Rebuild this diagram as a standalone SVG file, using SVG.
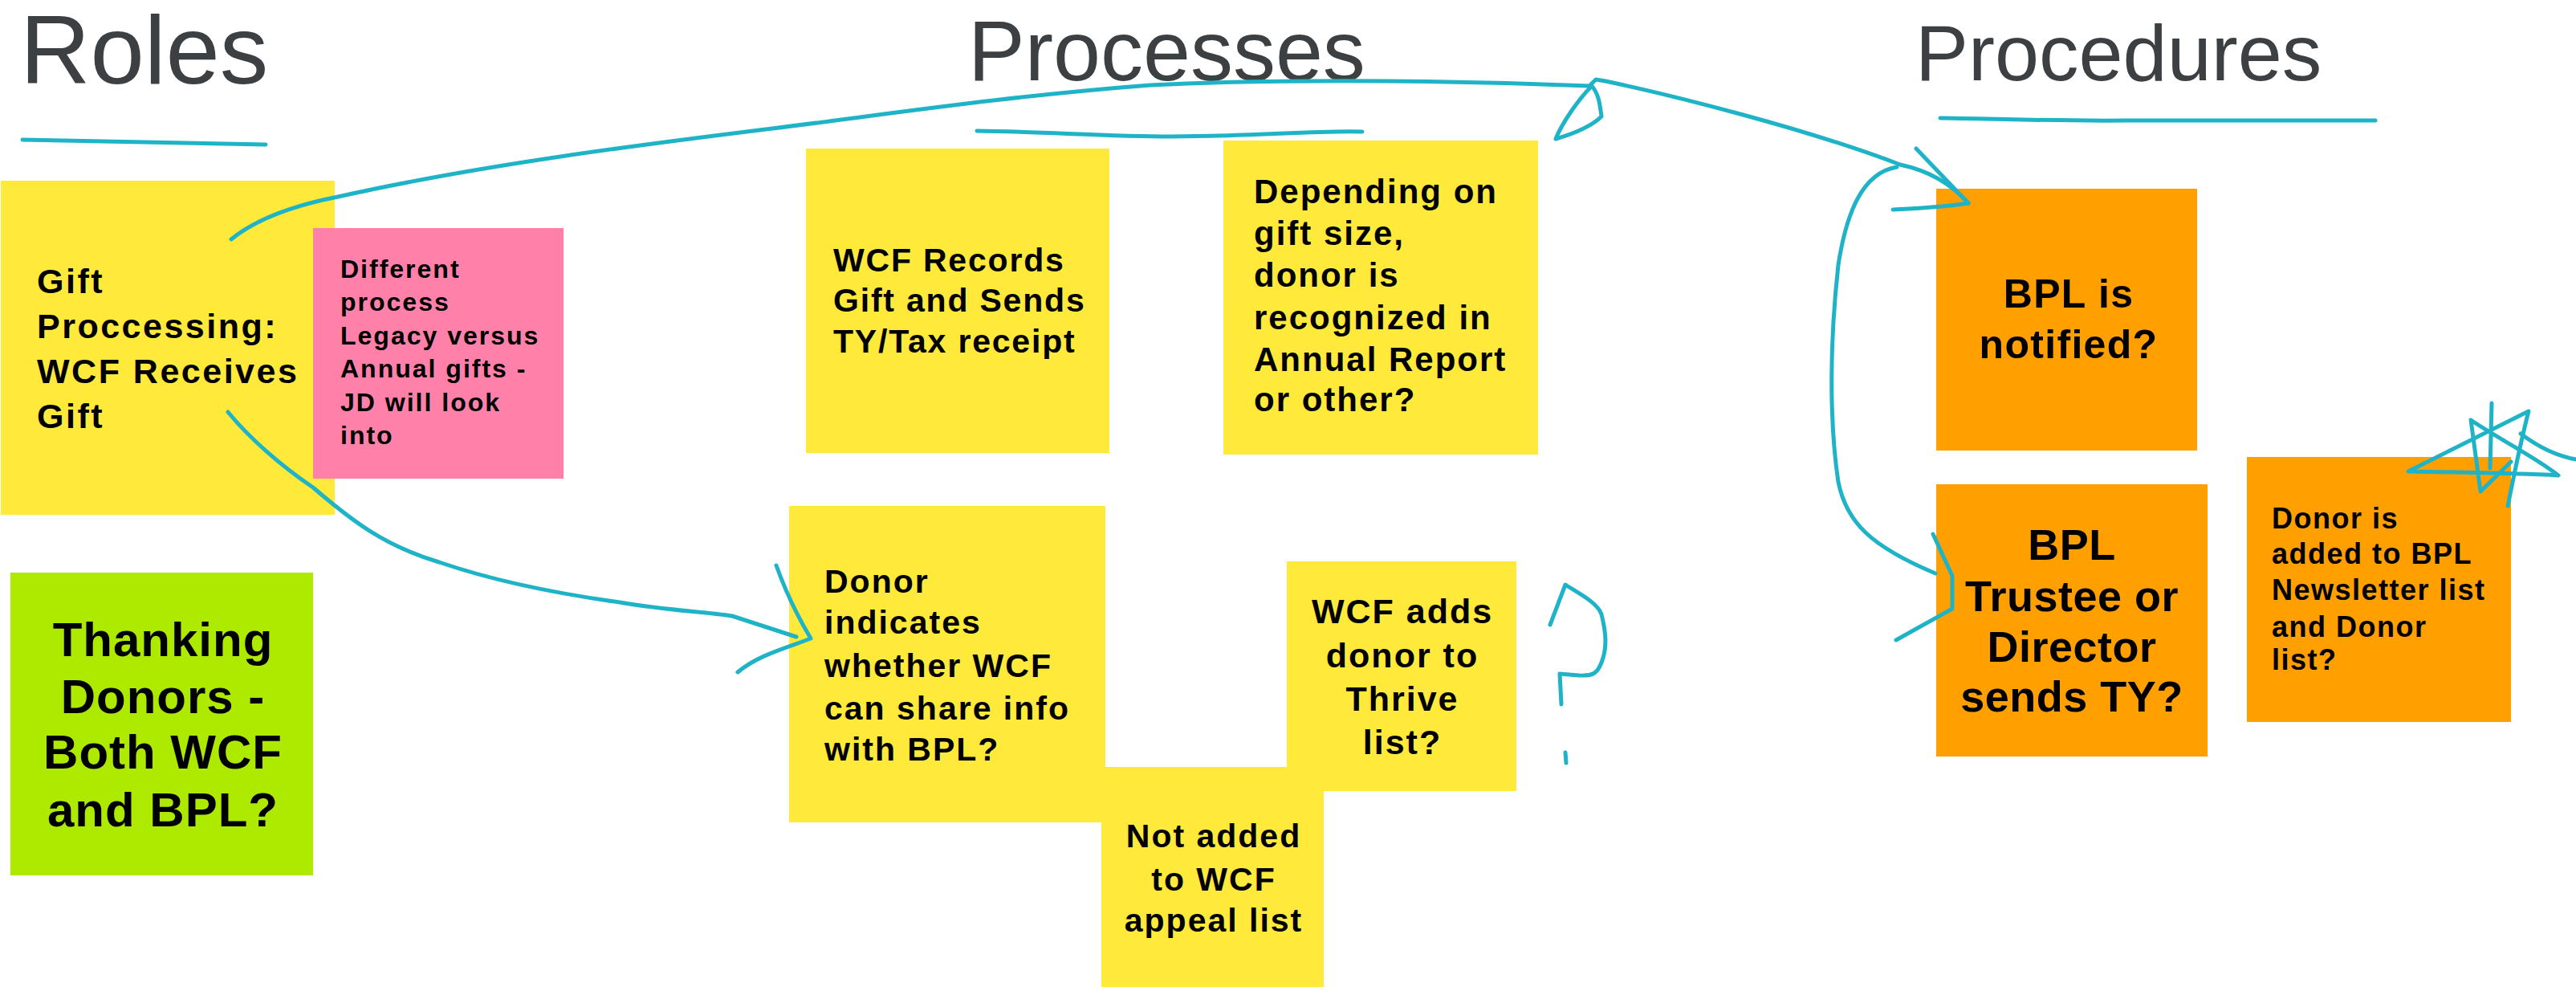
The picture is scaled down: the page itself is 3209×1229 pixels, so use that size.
<svg xmlns="http://www.w3.org/2000/svg" width="3209" height="1229" viewBox="0 0 3209 1229">
<style>
.title{font-family:"Liberation Sans",Arial,sans-serif;fill:#3c4043;}
.t{font-family:"Liberation Sans",Arial,sans-serif;font-weight:bold;fill:#000;}
.yellow{fill:#ffe93b;}
.pink{fill:#ff80a9;}
.green{fill:#aeea00;}
.orange{fill:#ff9f00;}
.ink{fill:none;stroke:#1fb3c7;stroke-width:5;stroke-linecap:round;stroke-linejoin:round;}
</style>
<rect width="3209" height="1229" fill="#ffffff"/>
<g id="titles">
<text class="title" x="25" y="104" font-size="121">Roles</text>
<text class="title" x="1206" y="100" font-size="106">Processes</text>
<text class="title" x="2386" y="100" font-size="99">Procedures</text>
</g>
<g id="underlines">
<path class="ink" d="M28,174 Q180,177 331,180"/>
<path class="ink" d="M1217,163 C1300,164 1380,170 1460,170 C1560,170 1640,162 1697,164"/>
<path class="ink" d="M2417,147 C2500,148 2560,151 2650,150 L2959,150"/>
</g>
<g id="node-gift">
<rect class="yellow" x="1" y="225" width="416" height="416"/>
<text class="t" font-size="43" letter-spacing="2.5"><tspan x="46" y="365">Gift</tspan><tspan x="46" y="421">Proccessing:</tspan><tspan x="46" y="477">WCF Receives</tspan><tspan x="46" y="533">Gift</tspan></text>
</g>
<g id="node-different">
<rect class="pink" x="390" y="284" width="312" height="312"/>
<text class="t" font-size="32" letter-spacing="2"><tspan x="424" y="346">Different</tspan><tspan x="424" y="387">process</tspan><tspan x="424" y="429">Legacy versus</tspan><tspan x="424" y="470">Annual gifts -</tspan><tspan x="424" y="512">JD will look</tspan><tspan x="424" y="553">into</tspan></text>
</g>
<g id="node-thanking">
<rect class="green" x="13" y="713" width="377" height="377"/>
<text class="t" font-size="60" letter-spacing="1" text-anchor="middle"><tspan x="203" y="817">Thanking</tspan><tspan x="203" y="888">Donors -</tspan><tspan x="203" y="957">Both WCF</tspan><tspan x="203" y="1029">and BPL?</tspan></text>
</g>
<g id="node-records">
<rect class="yellow" x="1004" y="185" width="378" height="379"/>
<text class="t" font-size="41" letter-spacing="1.8"><tspan x="1038" y="338">WCF Records</tspan><tspan x="1038" y="388">Gift and Sends</tspan><tspan x="1038" y="439">TY/Tax receipt</tspan></text>
</g>
<g id="node-depending">
<rect class="yellow" x="1524" y="175" width="392" height="391"/>
<text class="t" font-size="42" letter-spacing="2"><tspan x="1562" y="253">Depending on</tspan><tspan x="1562" y="305">gift size,</tspan><tspan x="1562" y="357">donor is</tspan><tspan x="1562" y="410">recognized in</tspan><tspan x="1562" y="462">Annual Report</tspan><tspan x="1562" y="512">or other?</tspan></text>
</g>
<g id="node-donor-indicates">
<rect class="yellow" x="983" y="630" width="394" height="394"/>
<text class="t" font-size="41" letter-spacing="2"><tspan x="1027" y="738">Donor</tspan><tspan x="1027" y="789">indicates</tspan><tspan x="1027" y="843">whether WCF</tspan><tspan x="1027" y="896">can share info</tspan><tspan x="1027" y="947">with BPL?</tspan></text>
</g>
<g id="node-thrive">
<rect class="yellow" x="1603" y="699" width="286" height="286"/>
<text class="t" font-size="43" letter-spacing="2" text-anchor="middle"><tspan x="1747" y="776">WCF adds</tspan><tspan x="1747" y="831">donor to</tspan><tspan x="1747" y="885">Thrive</tspan><tspan x="1747" y="939">list?</tspan></text>
</g>
<g id="node-not-added">
<rect class="yellow" x="1372" y="955" width="277" height="274"/>
<text class="t" font-size="41" letter-spacing="2" text-anchor="middle"><tspan x="1512" y="1055">Not added</tspan><tspan x="1512" y="1109">to WCF</tspan><tspan x="1512" y="1160">appeal list</tspan></text>
</g>
<g id="node-bpl-notified">
<rect class="orange" x="2412" y="235" width="325" height="326"/>
<text class="t" font-size="50" letter-spacing="1.3" text-anchor="middle"><tspan x="2577" y="383">BPL is</tspan><tspan x="2577" y="446">notified?</tspan></text>
</g>
<g id="node-bpl-trustee">
<rect class="orange" x="2412" y="603" width="338" height="339"/>
<text class="t" font-size="54" letter-spacing="0.5" text-anchor="middle"><tspan x="2581" y="697">BPL</tspan><tspan x="2581" y="761">Trustee or</tspan><tspan x="2581" y="824">Director</tspan><tspan x="2581" y="886">sends TY?</tspan></text>
</g>
<g id="node-donor-added">
<rect class="orange" x="2799" y="569" width="329" height="330"/>
<text class="t" font-size="36" letter-spacing="1.5"><tspan x="2830" y="658">Donor is</tspan><tspan x="2830" y="702">added to BPL</tspan><tspan x="2830" y="747">Newsletter list</tspan><tspan x="2830" y="793">and Donor</tspan><tspan x="2830" y="834">list?</tspan></text>
</g>
<g id="connectors">
<path class="ink" d="M288,298 C320,272 370,255 421,245 C600,205 800,180 962,160 C1100,143 1250,120 1433,106 C1600,98 1800,100 1980,107 L1988,99 L2000,101 C2080,118 2250,160 2367,205 C2400,212 2430,228 2452,253"/>
<path class="ink" d="M1983,107 C1965,125 1945,155 1938,173 C1955,168 1980,160 1995,145 C1993,130 1992,118 1983,107 Z"/>
<path class="ink" d="M2387,185 L2452,253 Q2420,258 2358,261"/>
<path class="ink" d="M2363,208 C2320,215 2300,265 2290,330 C2280,420 2278,520 2290,600 C2300,650 2330,680 2411,714"/>
<path class="ink" d="M2408,665 L2432,717 L2432,758 L2362,797"/>
<path class="ink" d="M284,513 C310,545 350,580 390,607 C440,650 480,680 547,700 C620,725 700,740 772,750 C830,760 880,762 912,767 L992,793"/>
<path class="ink" d="M967,704 C980,740 995,770 1010,795 C985,805 945,815 919,837"/>
</g>
<g id="marks">
<path class="ink" d="M1931,778 L1950,728 C1965,738 1990,750 1995,765 C2000,785 2003,805 1995,825 C1990,838 1985,842 1967,841 L1943,839 L1945,877"/>
<path class="ink" stroke-width="7" d="M1950,937 L1951,950"/>
<path class="ink" d="M3000,587 L3150,512 C3140,550 3130,600 3124,630 M3078,523 L3090,612 L3128,575 M3104,502 L3102,583 M3078,523 C3110,545 3160,570 3187,592 C3150,590 3060,588 3000,587 M3140,540 C3160,555 3185,568 3209,572"/>
</g>
</svg>
